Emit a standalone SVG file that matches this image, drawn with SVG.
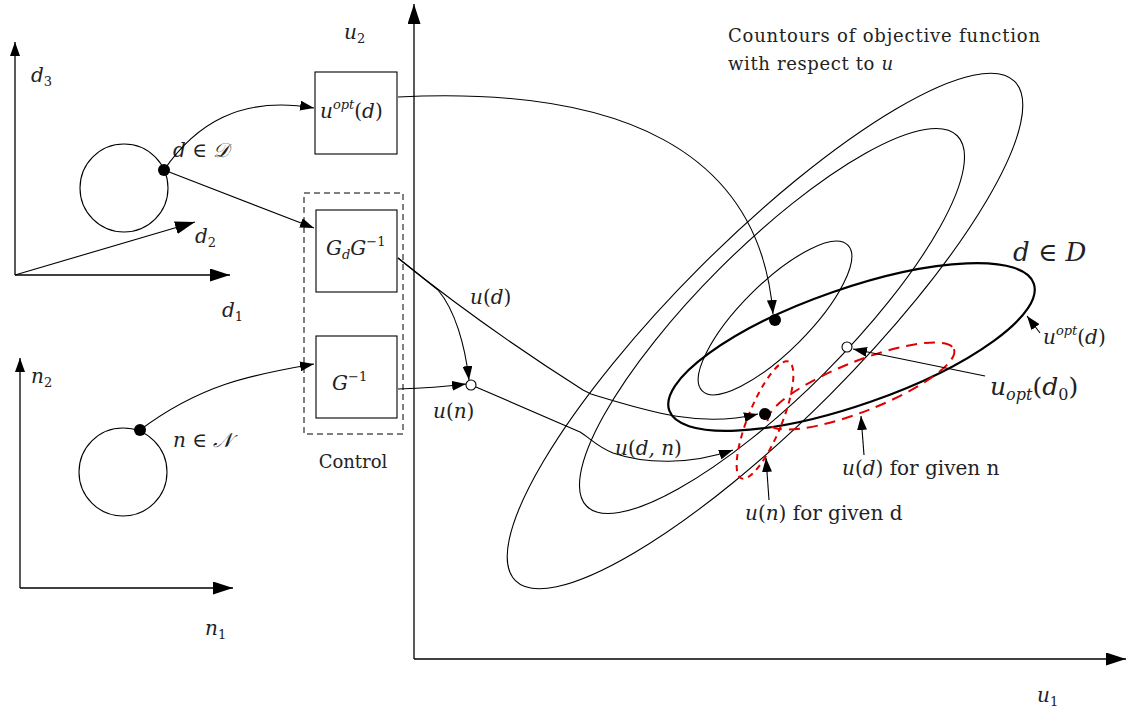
<svg xmlns="http://www.w3.org/2000/svg" width="1130" height="710" viewBox="0 0 1130 710">
<style>
.ln{fill:none;stroke:#000;stroke-width:1.1}
.ax{fill:none;stroke:#000;stroke-width:1.3}
.thick{fill:none;stroke:#000;stroke-width:2.2}
.box{fill:#fff;stroke:#000;stroke-width:1.1}
.red{fill:none;stroke:#e00000;stroke-width:2}
.t{font-family:"DejaVu Serif","Liberation Serif",serif;font-size:18px;fill:#222}
.m{font-family:"DejaVu Serif","Liberation Serif",serif;font-style:italic;font-size:20px;fill:#222}
.s{font-size:13px}
</style>
<defs>
<marker id="ah" viewBox="0 0 14 10" refX="14" refY="5" markerWidth="14" markerHeight="10" markerUnits="userSpaceOnUse" orient="auto"><path d="M0,0 L14,5 L0,10 Z" fill="#000"/></marker>
<marker id="big" viewBox="0 0 20 13" refX="20" refY="6.5" markerWidth="20" markerHeight="13" markerUnits="userSpaceOnUse" orient="auto"><path d="M0,0 L20,6.5 L0,13 Z" fill="#000"/></marker>
</defs>

<g id="d-axes">
<line class="ax" x1="15" y1="275" x2="15" y2="42" marker-end="url(#ah)"/>
<line class="ax" x1="15" y1="275" x2="230" y2="275" marker-end="url(#big)"/>
<line class="ln" x1="15" y1="275" x2="195" y2="222" marker-end="url(#big)"/>
<text class="m" x="31" y="82">d<tspan class="s" dy="4" font-style="normal">3</tspan></text>
<text class="m" x="195" y="243">d<tspan class="s" dy="4" font-style="normal">2</tspan></text>
<text class="m" x="222" y="317">d<tspan class="s" dy="4" font-style="normal">1</tspan></text>
</g>
<g id="d-set">
<circle class="ln" cx="124" cy="188" r="44"/>
<circle cx="164" cy="170" r="6" fill="#000"/>
<text class="m" x="173" y="157">d ∈ 𝒟</text>
</g>

<g id="n-axes">
<line class="ax" x1="20" y1="588" x2="20" y2="358" marker-end="url(#ah)"/>
<line class="ax" x1="20" y1="588" x2="233" y2="588" marker-end="url(#big)"/>
<text class="m" x="31" y="383">n<tspan class="s" dy="4" font-style="normal">2</tspan></text>
<text class="m" x="205" y="635">n<tspan class="s" dy="4" font-style="normal">1</tspan></text>
</g>
<g id="n-set">
<circle class="ln" cx="123" cy="472" r="44"/>
<circle cx="140" cy="430" r="6" fill="#000"/>
<text class="m" x="173" y="447">n ∈ 𝒩</text>
</g>

<g id="u-axes">
<line class="ax" x1="414" y1="659" x2="414" y2="4" marker-end="url(#big)"/>
<line class="ax" x1="414" y1="659" x2="1126" y2="659" marker-end="url(#big)"/>
<text class="m" x="344" y="39">u<tspan class="s" dy="4" font-style="normal">2</tspan></text>
<text class="m" x="1037" y="702">u<tspan class="s" dy="4" font-style="normal">1</tspan></text>
</g>

<g id="contours">
<ellipse class="ln" cx="765" cy="331" rx="353" ry="91" transform="rotate(-45 765 331)"/>
<ellipse class="ln" cx="772" cy="321" rx="262" ry="74" transform="rotate(-45 772 321)"/>
<ellipse class="ln" cx="775" cy="318" rx="103" ry="34" transform="rotate(-45 775 318)"/>
<text class="t" x="728" y="42" textLength="312">Countours of objective function</text>
<text class="t" x="728" y="70" textLength="165">with respect to <tspan font-style="italic">u</tspan></text>
</g>

<g id="d-region">
<ellipse class="thick" cx="851.5" cy="347" rx="193" ry="58" transform="rotate(-19.2 851.5 347)"/>
<text class="m" x="1013" y="261" style="font-size:26px">d ∈ D</text>
</g>
<g id="ud-given-n">
<ellipse class="red" cx="861" cy="386" rx="100" ry="25" transform="rotate(-21.6 861 386)" stroke-dasharray="11 7"/>
</g>
<g id="un-given-d">
<ellipse class="red" cx="765" cy="420" rx="17" ry="63" transform="rotate(22 765 420)" stroke-dasharray="6 5"/>
</g>

<g id="box-uopt">
<rect class="box" x="315" y="72" width="82" height="82"/>
<text class="m" x="320" y="118">u<tspan class="s" dy="-9">opt</tspan><tspan dy="9" font-style="normal">(</tspan>d<tspan font-style="normal">)</tspan></text>
</g>
<g id="control">
<rect x="304" y="193" width="99" height="241" fill="none" stroke="#000" stroke-width="1" stroke-dasharray="6 4"/>
<text class="t" x="353" y="468" text-anchor="middle">Control</text>
</g>
<g id="box-gdg">
<rect class="box" x="316" y="210" width="81" height="82"/>
<text class="m" x="326" y="255">G<tspan class="s" dy="4">d</tspan><tspan dy="-4">G</tspan><tspan class="s" dy="-9" font-style="normal">−1</tspan></text>
</g>
<g id="box-ginv">
<rect class="box" x="316" y="336" width="81" height="82"/>
<text class="m" x="332" y="390">G<tspan class="s" dy="-9" font-style="normal">−1</tspan></text>
</g>

<g id="points">
<circle cx="775" cy="320" r="6" fill="#000"/>
<circle cx="765" cy="414" r="6" fill="#000"/>
<circle cx="847" cy="347" r="5" fill="#fff" stroke="#000" stroke-width="1.1"/>
<circle cx="471" cy="385" r="5" fill="#fff" stroke="#000" stroke-width="1.1"/>
</g>

<g id="connectors">
<path class="ln" d="M164,170 C195,125 240,95 314,108" marker-end="url(#ah)"/>
<path class="ln" d="M164,170 L314,228" marker-end="url(#ah)"/>
<path class="ln" d="M140,430 C200,385 250,375 314,364" marker-end="url(#ah)"/>
<path class="ln" d="M398,97 C620,86 760,150 773,314" marker-end="url(#ah)"/>
<path class="ln" d="M398,258 L438,290 C455,310 465,345 469,380" marker-end="url(#ah)"/>
<path class="ln" d="M398,258 C450,300 520,350 583,390 L591,394 C650,412 700,428 758,414" marker-end="url(#ah)"/>
<path class="ln" d="M398,389 C430,388 450,386 466,384" marker-end="url(#ah)"/>
<path class="ln" d="M476,387 L580,432 C590,438 596,446 613,453 C645,464 690,465 733,450" marker-end="url(#ah)"/>
<path class="ln" d="M769,500 L766,458" marker-end="url(#ah)"/>
<path class="ln" d="M864,455 L861,416" marker-end="url(#ah)"/>
<path class="ln" d="M1040,333 L1027,316" marker-end="url(#ah)"/>
<path class="ln" d="M985,376 L853,349" marker-end="url(#ah)"/>
</g>

<g id="labels">
<text class="m" x="470" y="304">u<tspan font-style="normal">(</tspan>d<tspan font-style="normal">)</tspan></text>
<text class="m" x="433" y="418">u<tspan font-style="normal">(</tspan>n<tspan font-style="normal">)</tspan></text>
<text class="m" x="615" y="455">u<tspan font-style="normal">(</tspan>d, n<tspan font-style="normal">)</tspan></text>
<text class="m" x="745" y="520">u<tspan font-style="normal">(</tspan>n<tspan font-style="normal">) for given d</tspan></text>
<text class="m" x="842" y="475">u<tspan font-style="normal">(</tspan>d<tspan font-style="normal">) for given n</tspan></text>
<text class="m" x="990" y="395" style="font-size:25px">u<tspan font-size="16" dy="5">opt</tspan><tspan dy="-5" font-style="normal">(</tspan>d<tspan font-size="16" dy="5" font-style="normal">0</tspan><tspan dy="-5" font-style="normal">)</tspan></text>
<text class="m" x="1043" y="344">u<tspan class="s" dy="-9">opt</tspan><tspan dy="9" font-style="normal">(</tspan>d<tspan font-style="normal">)</tspan></text>
</g>
</svg>
